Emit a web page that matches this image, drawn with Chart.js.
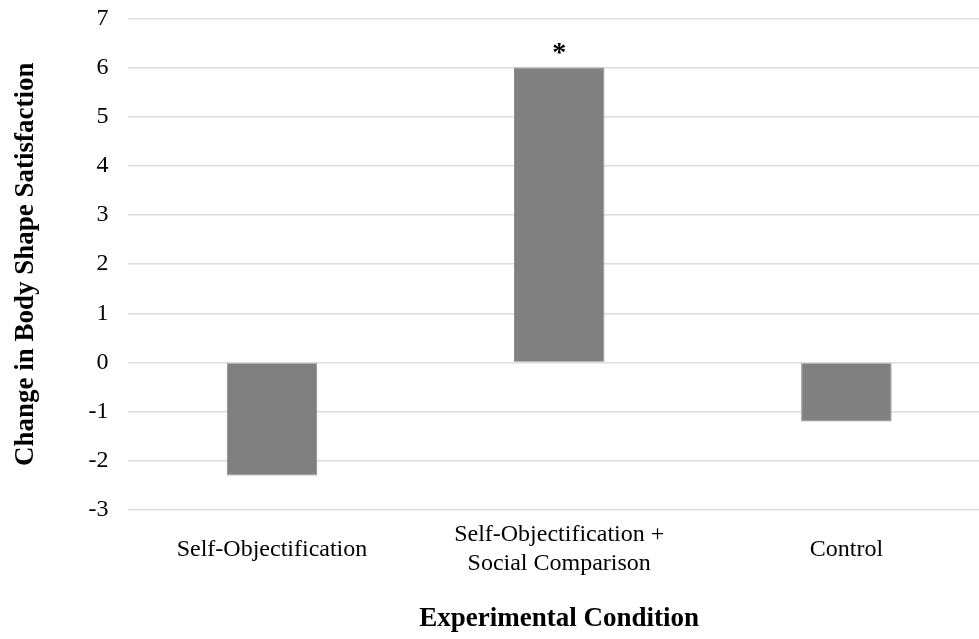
<!DOCTYPE html>
<html>
<head>
  <title>Change in Body Shape Satisfaction</title>
  <script src="https://cdn.jsdelivr.net/npm/chart.js"></script>
  <style>
    html, body { margin: 0; padding: 0; background: #fff; overflow: hidden; }
    #wrap { width: 990px; height: 655px; margin-top: -16px; }
  </style>
</head>
<body>
  <div id="wrap"><canvas id="myChart"></canvas></div>

  <script>
    const conditions = [
      'Self-Objectification',
      ['Self-Objectification +', 'Social Comparison'],
      'Control'
    ];
    const changes = [-2.3, 6.0, -1.2];
    const marks = ['', '*', ''];

    // draws the significance star above a bar
    const starPlugin = {
      id: 'stars',
      afterDatasetsDraw(chart) {
        const ctx = chart.ctx;
        const meta = chart.getDatasetMeta(0);
        ctx.save();
        ctx.font = 'bold 28px "Liberation Serif"';
        ctx.fillStyle = '#000';
        ctx.textAlign = 'center';
        ctx.textBaseline = 'middle';
        meta.data.forEach((bar, i) => {
          if (marks[i]) ctx.fillText(marks[i], bar.x, bar.y - 14);
        });
        ctx.restore();
      }
    };

    const ctx = document.getElementById('myChart').getContext('2d');
    const myChart = new Chart(ctx, {
      type: 'bar',
      data: {
        labels: conditions,
        datasets: [{
          data: changes,
          backgroundColor: '#808080',
          borderColor: '#8a8a8a',
          borderWidth: 1,
          categoryPercentage: 1,
          barPercentage: 0.315
        }]
      },
      options: {
        responsive: true,
        maintainAspectRatio: false,
        animation: false,
        layout: { padding: { top: 0, left: 10, right: 0, bottom: 4 } },
        plugins: {
          legend: { display: false },
          tooltip: { enabled: false }
        },
        scales: {
          x: {
            grid: { display: false, drawTicks: false },
            border: { display: false },
            ticks: {
              color: '#000',
              font: { family: '"Liberation Serif"', size: 24, lineHeight: 1.2 },
              padding: 25,
              maxRotation: 0,
              crossAlign: 'center'
            },
            title: {
              display: true,
              text: 'Experimental Condition',
              color: '#000',
              font: { family: '"Liberation Serif"', size: 27, weight: 'bold' },
              padding: { top: -15, bottom: 0 }
            }
          },
          y: {
            min: -3,
            max: 7,
            grid: { color: '#dcdcdc', lineWidth: 1.5, drawTicks: false },
            border: { display: false },
            ticks: {
              stepSize: 1,
              color: '#000',
              font: { family: '"Liberation Serif"', size: 24 },
              padding: 20
            },
            title: {
              display: true,
              text: 'Change in Body Shape Satisfaction',
              color: '#000',
              font: { family: '"Liberation Serif"', size: 27, weight: 'bold' },
              padding: { top: 0, bottom: 26 }
            }
          }
        }
      },
      plugins: [starPlugin]
    });
  </script>
</body>
</html>
